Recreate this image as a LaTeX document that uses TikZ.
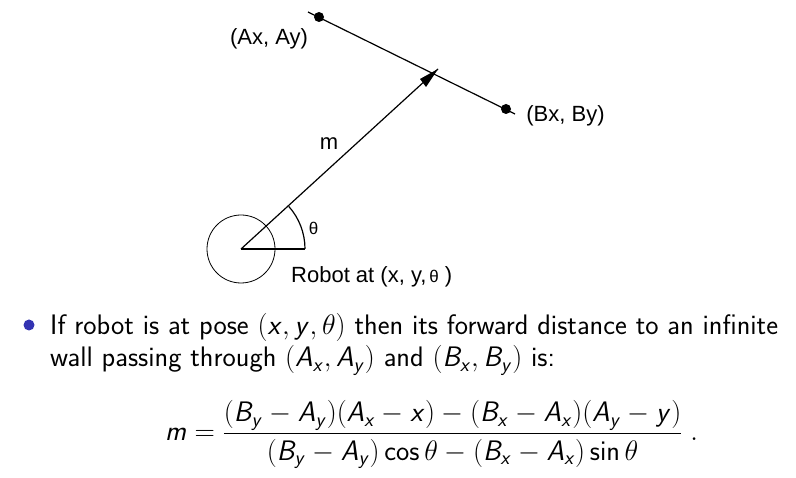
\RequirePackage{fix-cm}
\documentclass[tikz,border=0pt]{standalone}
\usepackage{fontspec}
\usepackage{amsmath}
\setmainfont{Latin Modern Sans}
\newfontfamily\helv{Liberation Sans}
\DeclareMathSizes{28.2}{28.2}{20}{14}
\DeclareSymbolFont{sfit}{OT1}{cmss}{m}{sl}
\DeclareMathSymbol{A}{\mathalpha}{sfit}{`A}
\DeclareMathSymbol{B}{\mathalpha}{sfit}{`B}
\DeclareMathSymbol{m}{\mathalpha}{sfit}{`m}
\DeclareMathSymbol{x}{\mathalpha}{sfit}{`x}
\DeclareMathSymbol{y}{\mathalpha}{sfit}{`y}
\DeclareMathAlphabet{\mathsfup}{OT1}{cmss}{m}{n}
\newcommand{\mycos}{\mathop{\mathsfup{cos}}\nolimits}
\newcommand{\mysin}{\mathop{\mathsfup{sin}}\nolimits}
\definecolor{bulletblue}{RGB}{51,51,178}
\tikzset{
  wall/.style={line width=1.2pt},
  ray/.style={line width=1.2pt},
  tag/.style={font=\helv\fontsize{22}{26}\selectfont,inner sep=0pt},
  body/.style={font=\fontsize{28.2}{34}\selectfont,inner sep=0pt,anchor=base west},
  dot/.style={circle,fill=black,inner sep=0pt,minimum size=10pt},
}
\begin{document}
\begin{tikzpicture}[x=1pt,y=-1pt]
\useasboundingbox (0,0) rectangle (796,478);
\coordinate (wallstart) at (308,12);
\coordinate (wallend) at (515,114);
\coordinate (robot) at (241,249);
\coordinate (tip) at (438,69);
\coordinate (arcend) at (305,249);
\draw[wall] (wallstart) -- (wallend);
\node[dot] (ptA) at (319,17) {};
\node[dot] (ptB) at (506,109) {};
\node[tag] (labA) at (269,39) {(Ax, Ay)};
\node[tag] (labB) at (565.5,116) {(Bx, By)};
\node[tag] (labM) at (329,144) {m};
\node[tag,font=\helv\fontsize{17}{20}\selectfont] (labT) at (313.5,228) {θ};
\node[tag,anchor=base west] (labR) at (291,283) {Robot at (x, y,{\fontsize{17}{20}\selectfont\,θ} )};
\draw[line width=0.8pt] (robot) circle[radius=34];
\draw[ray] (robot) -- (arcend);
\draw[ray] (robot) -- (tip);
\fill (tip) -- ++(-18,10) -- ++(6,8) -- cycle;
\draw[line width=1.2pt] (arcend) arc[start angle=0,end angle=-41.8,radius=64];
\fill[bulletblue] (29,325) circle[radius=5.5];
\node[body] (l1) at (50,335) {If robot is at pose $(x,y,\theta)$ then its forward distance to an infinite};
\node[body] (l2) at (50,367) {wall passing through $(A_x,A_y)$ and $(B_x,B_y)$ is:};
\node[inner sep=0pt,font=\fontsize{28.2}{34}\selectfont,anchor=west] (eq) at (165,434.5) {$\medmuskip=4.2mu\thickmuskip=5mu\displaystyle m=\frac{(B_y-A_y)(A_x-x)-(B_x-A_x)(A_y-y)}{(B_y-A_y)\mycos\theta-(B_x-A_x)\mysin\theta}\;.$};
\end{tikzpicture}
\end{document}
